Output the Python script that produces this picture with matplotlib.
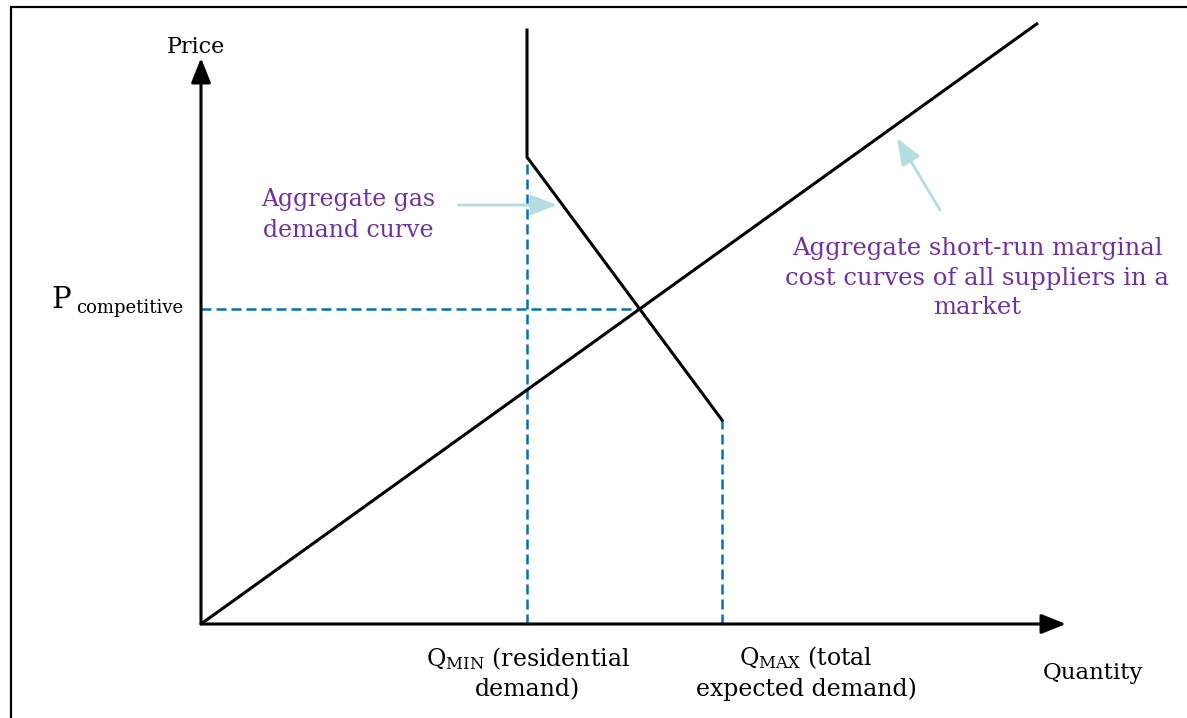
import numpy as np
import matplotlib.pyplot as plt
from matplotlib.patches import Rectangle

plt.rcParams['font.family'] = ['DejaVu Serif']
plt.rcParams['mathtext.fontset'] = 'dejavuserif'

# diagram values (quantity / price units, origin at the axes corner)
supply_q = [0, 837]
supply_p = [0, 601]
demand_q = [326, 326, 521]
demand_p = [594, 467, 204]
q_min = 326
q_max = 521
p_comp = 315
q_axis_end = 865
p_axis_end = 566

purple = '#7030a0'
blue = '#0070c0'
light = '#b3dde1'

fig = plt.figure(figsize=(11.87, 7.18), dpi=100)
ax = fig.add_axes([0, 0, 1, 1])
ax.set_xlim(-201, 1187 - 201)
ax.set_ylim(624 - 718, 624)
ax.axis('off')

# frame around the picture (right and bottom edges fall outside)
fig.patches.append(Rectangle((11 / 1187, -0.5), 2.0, 0.5 + (718 - 7) / 718,
                             transform=fig.transFigure, fill=False,
                             lw=1.6, ec='black'))

# axes with arrow heads
arrow = dict(arrowstyle='-|>,head_length=0.75,head_width=0.3', lw=2.2,
             color='black', shrinkA=0, shrinkB=0, mutation_scale=20)
ax.annotate('', xy=(0, p_axis_end), xytext=(0, 0), arrowprops=arrow)
ax.annotate('', xy=(q_axis_end, 0), xytext=(0, 0), arrowprops=arrow)

# equilibrium quantity where supply meets p_comp
q_eq = np.interp(p_comp, supply_p, supply_q)

dash = dict(color=blue, lw=1.8, dashes=(4, 2))
ax.plot([q_min, q_min], [0, demand_p[1]], **dash)
ax.plot([q_max, q_max], [0, demand_p[2]], **dash)
ax.plot([0, q_eq], [p_comp, p_comp], **dash)

ax.plot(supply_q, supply_p, color='black', lw=2.2, solid_capstyle='butt')
ax.plot(demand_q, demand_p, color='black', lw=2.2, solid_joinstyle='miter')

# text
ax.text(-5, 577, 'Price', fontsize=16, ha='center', va='center')
ax.text(892, -49, 'Quantity', fontsize=16.5, ha='center', va='center')
ax.text(-150, 324, 'P', fontsize=21, ha='left', va='center')
ax.text(-125, 316, 'competitive', fontsize=13, ha='left', va='center')
ax.text(q_min + 1, -49, '$\\mathrm{Q}_{\\mathrm{MIN}}$ (residential\ndemand)',
        fontsize=17, ha='center', va='center', linespacing=1.35)
ax.text(q_max + 84, -49, '$\\mathrm{Q}_{\\mathrm{MAX}}$ (total\nexpected demand)',
        fontsize=17, ha='center', va='center', linespacing=1.35)

ax.text(147, 409, 'Aggregate gas\ndemand curve', fontsize=17, color=purple,
        ha='center', va='center', linespacing=1.4)
ax.text(776, 346, 'Aggregate short-run marginal\ncost curves of all suppliers in a\nmarket',
        fontsize=17.5, color=purple, ha='center', va='center', linespacing=1.35)

pointer = dict(arrowstyle='-|>,head_length=0.9,head_width=0.35', lw=2,
               color=light, shrinkA=0, shrinkB=0, mutation_scale=18)
ax.annotate('', xy=(356, 419), xytext=(257, 419), arrowprops=pointer)
ax.annotate('', xy=(696, 486), xytext=(739, 414), arrowprops=pointer)

fig.savefig('out.png', dpi=100)
